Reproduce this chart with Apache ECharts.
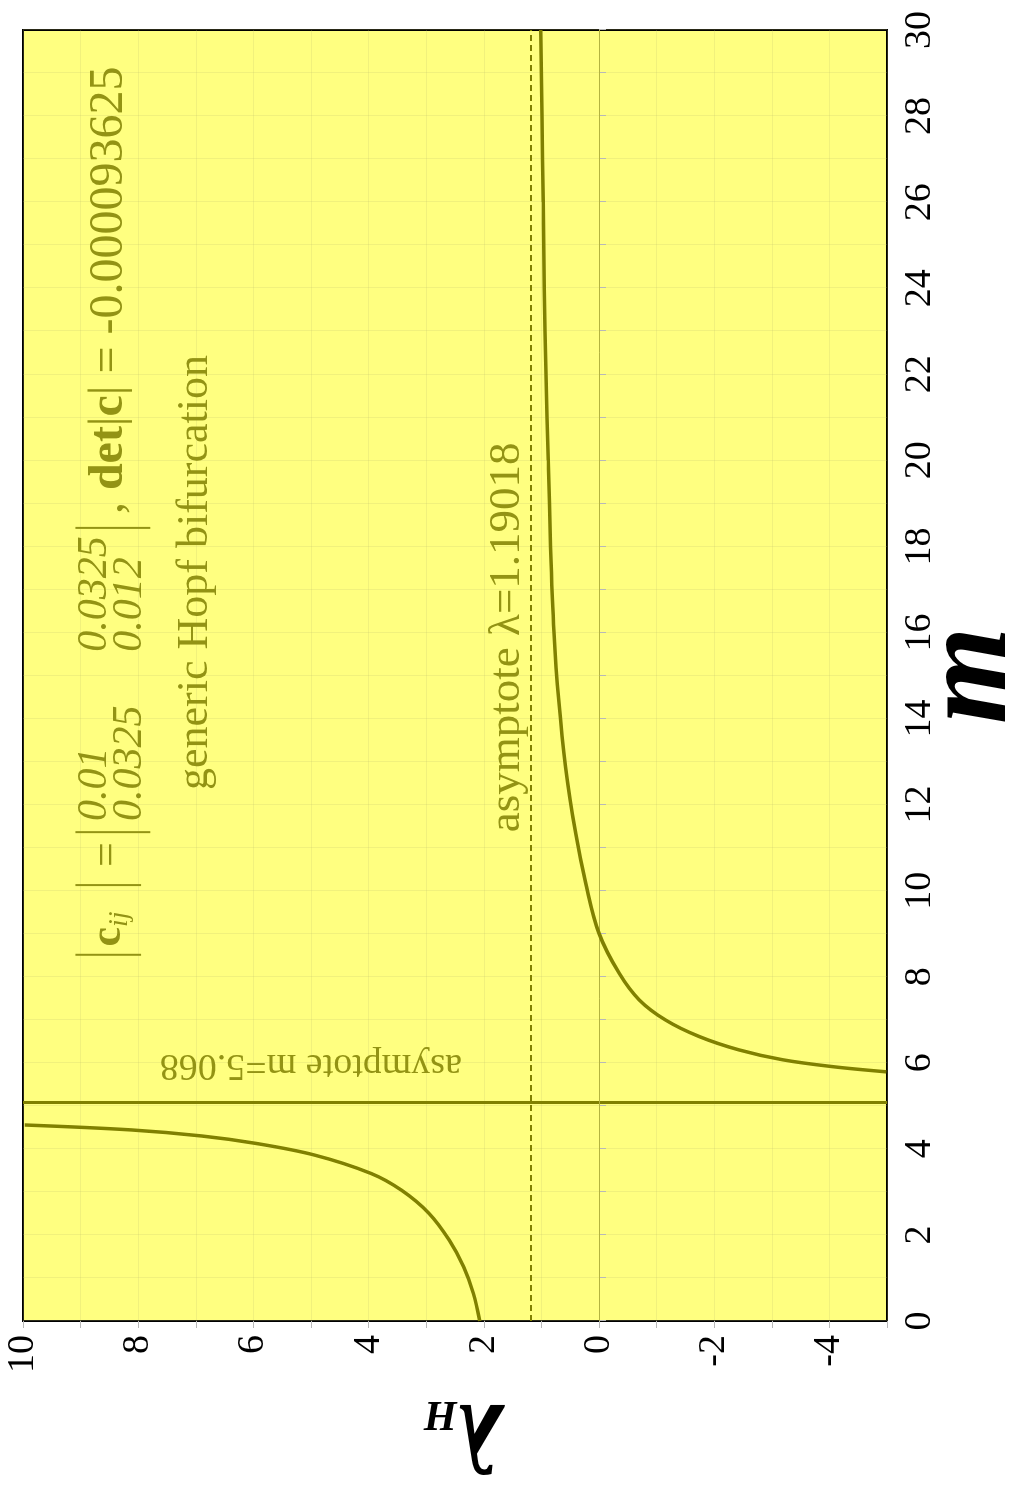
<!DOCTYPE html>
<html><head><meta charset="utf-8">
<script src="https://cdn.jsdelivr.net/npm/echarts@6/dist/echarts.min.js"></script>
<style>
html,body{margin:0;padding:0;background:#fff;overflow:hidden;width:1018px;height:1493px;}
#wrap{position:absolute;left:0;top:0;width:1493px;height:1018px;transform-origin:0 0;transform:translate(0px,1493px) rotate(-90deg);}
#chart{width:1493px;height:1018px;}
</style></head><body>
<div id="wrap"><div id="chart"></div></div>
<script>
// ---- data ----
const mTickLabels = [0,2,4,6,8,10,12,14,16,18,20,22,24,26,28,30];
const lambdaTickLabels = [-4,-2,0,2,4,6,8,10];
// left branch (m < asymptote)
const leftM      = [0, 0.64, 1.26, 1.88, 2.50, 3.04, 3.43, 3.86, 4.13, 4.30, 4.44, 4.555];
const leftLambda = [2.07, 2.18, 2.35, 2.60, 2.95, 3.43, 3.96, 4.95, 5.97, 6.90, 8.12, 9.97];
// right branch (m > asymptote)
const rightM      = [5.79, 5.91, 6.07, 6.30, 6.61, 6.99, 7.46, 8.08, 9.01, 10.17, 11.33, 12.88, 14.43, 16, 18, 20, 22, 24, 26, 28, 30];
const rightLambda = [-4.99, -4.06, -3.19, -2.43, -1.74, -1.16, -0.70, -0.35, 0.0, 0.23, 0.405, 0.58, 0.70, 0.78, 0.84, 0.88, 0.92, 0.95, 0.97, 0.99, 1.01];
const asymptoteM = 5.068;
const asymptoteLambda = 1.19018;
const matrixC = [["0.01","0.0325"],["0.0325","0.012"]];
const detText = "-0.000093625";

const OLIVE = '#808000';
const TXT = '#939314';
const SERIF = '"Liberation Serif","Times New Roman",serif';

const chart = echarts.init(document.getElementById('chart'), null, {renderer:'canvas'});
const pairs = (xs, ys) => xs.map((x,i)=>[x, ys[i]]);

chart.setOption({
  animation:false,
  backgroundColor:'#ffffff',
  grid:{left:172, right:30, top:23, bottom:131, show:true, backgroundColor:'#ffff80', borderColor:'#000', borderWidth:2, containLabel:false, outerBoundsMode:'none'},
  xAxis:{type:'value', min:0, max:30, interval:1, position:'bottom',
    axisLine:{show:false},
    axisTick:{show:true, length:7, lineStyle:{color:'#b8b8b8', width:1}},
    splitLine:{show:true, lineStyle:{color:'rgba(190,190,110,0.22)', width:1}},
    axisLabel:{margin:14, fontSize:38, fontFamily:SERIF, color:'#000', formatter:v=>mTickLabels.includes(v)?String(v):''},
    name:'m', nameLocation:'middle', nameGap:23, nameMoveOverlap:false,
    nameTextStyle:{fontSize:125, fontWeight:'bold', fontStyle:'italic', fontFamily:SERIF, color:'#000'}
  },
  yAxis:{type:'value', min:-5, max:10, interval:1, position:'left',
    axisLine:{show:false},
    axisTick:{show:true, length:7, lineStyle:{color:'#b8b8b8', width:1}},
    splitLine:{show:true, lineStyle:{color:'rgba(190,190,110,0.22)', width:1}},
    axisLabel:{margin:14, fontSize:38, fontFamily:SERIF, color:'#000', formatter:v=>lambdaTickLabels.includes(v)?String(v):''},
    name:'{l|λ}{h|H}', nameLocation:'middle', nameGap:58, nameRotate:90, nameMoveOverlap:false,
    nameTextStyle:{rich:{
      l:{fontSize:100, fontWeight:'bold', fontStyle:'italic', fontFamily:SERIF, color:'#000', verticalAlign:'middle', lineHeight:104},
      h:{fontSize:42, fontWeight:'bold', fontStyle:'italic', fontFamily:SERIF, color:'#000', verticalAlign:'bottom', lineHeight:66, padding:[0,16,13,0]}
    }}
  },
  series:[
    {type:'line', name:'left', data:pairs(leftM,leftLambda), showSymbol:false, smooth:0.35,
      lineStyle:{color:OLIVE, width:3.5}, clip:true, z:5},
    {type:'line', name:'right', data:pairs(rightM,rightLambda), showSymbol:false, smooth:0.35,
      lineStyle:{color:OLIVE, width:3.5}, clip:true, z:5,
      markLine:{silent:true, symbol:['none','none'], label:{show:false}, animation:false,
        data:[
          {xAxis:asymptoteM, lineStyle:{color:OLIVE, width:3, type:'solid'}},
          {yAxis:asymptoteLambda, lineStyle:{color:OLIVE, width:2, type:[6,4]}},
          {yAxis:0, lineStyle:{color:'#b3b340', width:1, type:'solid'}}
        ]}
    }
  ]
});

const P = (m,l) => chart.convertToPixel({gridIndex:0}, [m,l]);
function txt(m,l,text,o){
  const p = P(m,l);
  return {type:'text', x:p[0], y:p[1], rotation:o.rot||0, silent:true, z:10,
    style:{text:text, fill:o.fill||TXT, fontSize:o.size||42, fontFamily:SERIF,
      fontStyle:o.style||'normal', fontWeight:o.weight||'normal',
      align:o.align||'left', verticalAlign:o.va||'middle', rich:o.rich}};
}
function bar(m,l1,l2){
  const a = P(m,l1), b = P(m,l2);
  return {type:'line', silent:true, z:10, shape:{x1:a[0],y1:a[1],x2:b[0],y2:b[1]}, style:{stroke:TXT, lineWidth:2}};
}
const g = [];
// |c_ij| =
g.push(bar(8.51, 9.09, 7.95));
g.push(txt(8.70, 8.52, '{b|c}{s|ij}', {rich:{
  b:{fontSize:44, fontWeight:'bold', fontFamily:SERIF, fill:TXT},
  s:{fontSize:28, fontStyle:'italic', fontFamily:SERIF, fill:TXT, padding:[22,0,0,0]}}}));
g.push(bar(10.13, 9.09, 7.95));
g.push(txt(10.55, 8.52, '=', {size:44}));
// matrix
g.push(bar(11.36, 9.09, 7.79));
g.push(txt(11.62, 8.75, matrixC[0][0], {style:'italic', size:42}));
g.push(txt(11.62, 8.14, matrixC[1][0], {style:'italic', size:42}));
g.push(txt(15.55, 8.75, matrixC[0][1], {style:'italic', size:42}));
g.push(txt(15.55, 8.14, matrixC[1][1], {style:'italic', size:42}));
g.push(bar(18.43, 9.09, 7.79));
// , det|c| = ...
g.push(txt(18.75, 8.50, '{n|, }{b|det}{n||}{b|c}{n|| = ' + detText + '}', {rich:{
  n:{fontSize:48, fontFamily:SERIF, fill:TXT},
  b:{fontSize:48, fontWeight:'bold', fontFamily:SERIF, fill:TXT}}}));
// other annotations
g.push(txt(12.34, 7.01, 'generic Hopf bifurcation', {size:44}));
g.push(txt(11.36, 1.60, 'asymptote λ=' + asymptoteLambda, {size:45}));
g.push(txt(5.95, 2.38, 'asymptote m=' + asymptoteM, {size:38, rot:Math.PI/2}));
chart.setOption({graphic:g});
</script>
</body></html>
